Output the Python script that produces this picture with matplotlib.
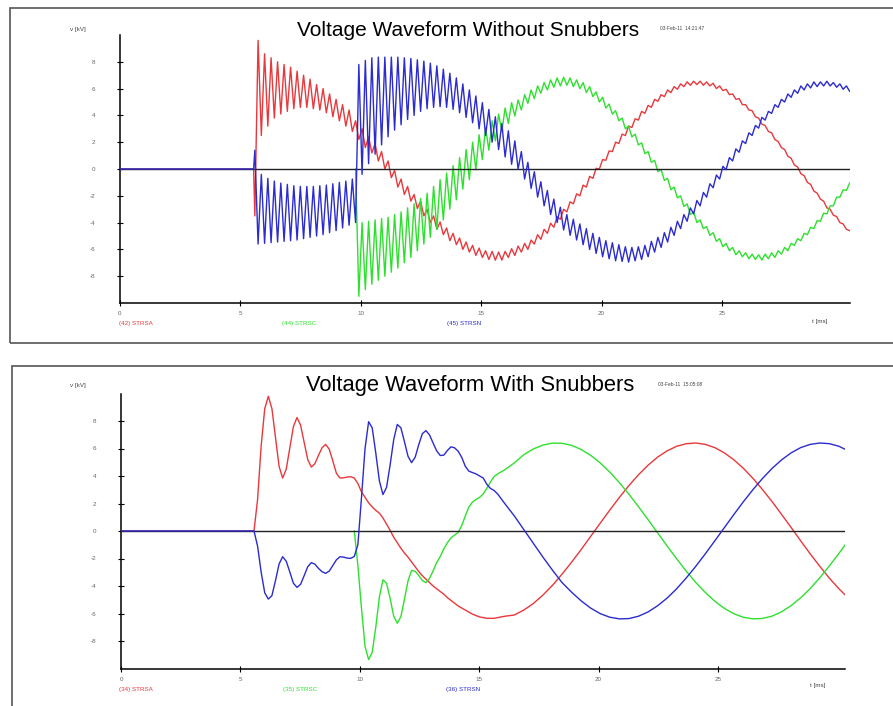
import numpy as np
import matplotlib
matplotlib.use("Agg")
import matplotlib.pyplot as plt
from matplotlib.patches import Rectangle

plt.rcParams['font.family'] = ['Liberation Sans', 'DejaVu Sans']
plt.rcParams['axes.unicode_minus'] = False

# ---------------- top panel: without snubbers ----------------
# one sample per ripple half period, starting at 5.6 ms
top_t0 = 5.6
top_dt = 0.135

strsa_top = [
    -3.5, 9.6, 2.5, 8.6, 3.2, 8.3, 3.8, 8.0,
    4.1, 7.8, 4.3, 7.6, 4.5, 7.3, 4.6, 7.0,
    4.6, 6.7, 4.5, 6.3, 4.4, 6.0, 4.2, 5.6,
    3.9, 5.2, 3.6, 4.8, 3.2, 4.4, 2.8, 3.6,
    2.2, 3.0, 1.6, 2.4, 1.2, 1.9, 0.6, 1.3,
    0.0, 0.6, -0.65, -0.1, -1.35, -0.75, -1.9, -1.3,
    -2.4, -1.9, -2.95, -2.4, -3.5, -3.0, -4.0, -3.5,
    -4.5, -3.95, -4.9, -4.4, -5.35, -4.8, -5.65, -5.15,
    -6.0, -5.45, -6.2, -5.7, -6.45, -5.9, -6.6, -6.1,
    -6.75, -6.15, -6.8, -6.2, -6.8, -6.15, -6.6, -5.95,
    -6.45, -5.75, -6.2, -5.55, -6.0, -5.3, -5.6, -4.9,
    -5.25, -4.5, -4.8, -4.05, -4.35, -3.55, -3.75, -3.0,
    -3.2, -2.45, -2.6, -1.85, -2.0, -1.2, -1.35, -0.55,
    -0.7, 0.05, 0.0, 0.7, 0.65, 1.35, 1.3, 2.0,
    1.9, 2.6, 2.5, 3.2, 3.1, 3.75, 3.65, 4.3,
    4.15, 4.75, 4.6, 5.2, 5.05, 5.55, 5.4, 5.9,
    5.7, 6.15, 5.95, 6.35, 6.15, 6.5, 6.25, 6.55,
    6.3, 6.55, 6.25, 6.5, 6.2, 6.4, 6.0, 6.2,
    5.85, 5.95, 5.55, 5.6, 5.2, 5.25, 4.8, 4.8,
    4.4, 4.35, 3.9, 3.8, 3.35, 3.25, 2.8, 2.7,
    2.2, 2.05, 1.6, 1.45, 0.95, 0.8, 0.3, 0.15,
    -0.35, -0.5, -1.0, -1.15, -1.65, -1.8, -2.25, -2.4,
    -2.9, -3.0, -3.45, -3.55, -4.0, -4.1, -4.5, -4.6,
]

strsc_top = [0.0] * 32 + [
    -9.5, -4.0, -9.0, -3.9, -8.6, -3.8, -8.3, -3.7,
    -8.0, -3.6, -7.7, -3.4, -7.4, -3.2, -7.0, -2.9,
    -6.6, -2.6, -6.1, -2.2, -5.6, -1.8, -5.1, -1.3,
    -4.5, -0.8, -3.8, -0.3, -3.0, 0.25, -2.3, 0.85,
    -1.5, 1.45, -0.8, 2.0, -0.05, 2.55, 0.7, 3.1,
    1.4, 3.6, 2.1, 4.1, 2.8, 4.55, 3.4, 4.95,
    3.95, 5.15, 4.4, 5.55, 4.9, 5.9, 5.25, 6.2,
    5.65, 6.45, 5.9, 6.65, 6.1, 6.8, 6.2, 6.85,
    6.25, 6.8, 6.15, 6.65, 6.0, 6.45, 5.7, 6.15,
    5.4, 5.75, 5.0, 5.35, 4.55, 4.85, 4.1, 4.35,
    3.6, 3.8, 3.0, 3.2, 2.4, 2.6, 1.8, 1.95,
    1.15, 1.3, 0.5, 0.65, -0.2, -0.05, -0.85, -0.7,
    -1.55, -1.35, -2.15, -2.0, -2.8, -2.6, -3.4, -3.2,
    -4.0, -3.8, -4.45, -4.3, -4.95, -4.75, -5.4, -5.2,
    -5.8, -5.55, -6.1, -5.85, -6.4, -6.1, -6.55, -6.25,
    -6.7, -6.35, -6.75, -6.4, -6.8, -6.35, -6.7, -6.25,
    -6.6, -6.1, -6.35, -5.85, -6.1, -5.55, -5.7, -5.2,
    -5.35, -4.8, -4.9, -4.35, -4.45, -3.85, -3.9, -3.3,
    -3.35, -2.75, -2.75, -2.1, -2.1, -1.55, -1.6, -1.05,
]

strsn_top = [
    1.4, -5.6, -0.4, -5.55, -0.7, -5.5, -0.9, -5.45,
    -1.05, -5.4, -1.15, -5.35, -1.25, -5.3, -1.3, -5.2,
    -1.3, -5.1, -1.3, -5.0, -1.25, -4.9, -1.2, -4.75,
    -1.1, -4.6, -1.0, -4.4, -0.9, -4.2, -0.75, -4.0,
    7.8, -0.4, 8.1, 0.4, 8.3, 1.1, 8.35, 1.8,
    8.35, 2.4, 8.35, 2.9, 8.35, 3.3, 8.3, 3.7,
    8.25, 4.0, 8.15, 4.3, 8.05, 4.5, 7.9, 4.6,
    7.7, 4.65, 7.45, 4.6, 7.15, 4.45, 6.8, 4.2,
    6.35, 3.85, 5.9, 3.45, 5.45, 3.0, 4.95, 2.5,
    4.45, 2.0, 3.9, 1.45, 3.4, 0.9, 2.85, 0.35,
    2.1, 0.0, 1.3, -0.75, 0.5, -1.45, -0.2, -2.1,
    -0.95, -2.75, -1.6, -3.4, -2.25, -4.0, -2.85, -4.55,
    -3.4, -4.95, -3.75, -5.3, -4.1, -5.65, -4.45, -6.0,
    -4.8, -6.3, -5.1, -6.55, -5.35, -6.7, -5.5, -6.85,
    -5.65, -6.9, -5.8, -6.95, -5.85, -6.85, -5.8, -6.75,
    -5.7, -6.55, -5.4, -6.2, -5.1, -5.85, -4.75, -5.45,
    -4.35, -4.95, -3.9, -4.45, -3.4, -3.9, -2.9, -3.35,
    -2.35, -2.75, -1.75, -2.1, -1.1, -1.4, -0.45, -0.75,
    0.2, -0.05, 0.85, 0.6, 1.5, 1.25, 2.1, 1.9,
    2.7, 2.5, 3.25, 3.05, 3.85, 3.65, 4.3, 4.15,
    4.8, 4.6, 5.2, 5.0, 5.6, 5.35, 5.9, 5.65,
    6.2, 5.9, 6.35, 6.05, 6.5, 6.15, 6.5, 6.2,
    6.55, 6.2, 6.45, 6.1, 6.35, 5.95, 6.2, 5.8,
]

# ---------------- bottom panel: with snubbers ----------------
bot_t0, bot_dt, bot_n = 5.57, 0.15, 71
bot_t1, bot_dt1, bot_n1 = 16.47, 0.4, 36

strsa_bot = [
    0.0,
    0.0, 2.3, 6.2, 8.9, 9.8, 8.9, 6.8, 4.7,
    3.85, 4.5, 6.05, 7.6, 8.25, 7.7, 6.45, 5.2,
    4.65, 4.9, 5.5, 6.05, 6.3, 5.95, 5.1, 4.2,
    3.85, 3.87, 3.92, 3.95, 3.85, 3.45, 2.85, 2.45,
    2.05, 1.75, 1.5, 1.3, 0.95, 0.5, 0.05, -0.45,
    -0.85, -1.25, -1.6, -1.9, -2.25, -2.6, -2.95, -3.25,
    -3.5, -3.75, -4.0, -4.2, -4.4, -4.6, -4.85, -5.05,
    -5.25, -5.45, -5.6, -5.75, -5.9, -6.05, -6.15, -6.25,
    -6.3, -6.35, -6.35, -6.35, -6.3, -6.25, -6.2,
    -6.11, -5.75, -5.27, -4.66, -3.95, -3.14, -2.27, -1.35, -0.39,
    0.57, 1.52, 2.44, 3.3, 4.09, 4.78, 5.37, 5.83, 6.16,
    6.35, 6.4, 6.3, 6.06, 5.68, 5.17, 4.55, 3.82, 3.0,
    2.13, 1.19, 0.24, -0.73, -1.68, -2.58, -3.44, -4.21, -4.89,
]

strsc_bot = [0.0] * 30 + [
    -2.5, -5.6, -8.4,
    -9.35, -8.82, -7.0, -4.8, -3.55, -3.8, -4.9, -6.18,
    -6.71, -6.23, -4.96, -3.63, -2.86, -2.93, -3.24, -3.6,
    -3.76, -3.45, -2.9, -2.3, -1.85, -1.3, -0.85, -0.5,
    -0.3, -0.1, 0.4, 1.1, 1.75, 2.1, 2.3, 2.45,
    2.7, 3.1, 3.55, 3.95, 4.15, 4.3, 4.45,
    4.95, 5.55, 5.97, 6.25, 6.39, 6.38, 6.23, 5.93, 5.5,
    4.95, 4.28, 3.52, 2.68, 1.77, 0.83, -0.13, -1.09, -2.02,
    -2.92, -3.74, -4.47, -5.11, -5.63, -6.02, -6.28, -6.39, -6.36,
    -6.19, -5.87, -5.42, -4.85, -4.17, -3.39, -2.53, -1.62, -0.67,
]

strsn_bot = [
    0.0,
    0.0, -1.1, -3.0, -4.5, -4.95, -4.7, -3.6, -2.4,
    -1.87, -2.2, -2.98, -3.8, -4.1, -3.88, -3.25, -2.6,
    -2.3, -2.41, -2.72, -2.96, -3.08, -2.92, -2.51, -2.1,
    -1.87, -1.9, -1.97, -1.99, -1.85, -1.0, 2.4, 6.0,
    7.95, 7.5, 5.67, 3.65, 2.65, 3.17, 4.8, 6.64,
    7.75, 7.51, 6.5, 5.43, 4.97, 5.37, 6.28, 7.08,
    7.3, 6.99, 6.4, 5.83, 5.49, 5.52, 5.86, 6.12,
    6.05, 5.8, 5.35, 4.7, 4.35, 4.25, 4.15, 4.0,
    3.85, 3.4, 3.1, 2.95, 2.7, 2.35, 2.0,
    1.1, 0.1, -0.9, -1.9, -2.85, -3.75, -4.45, -5.08, -5.61,
    -6.01, -6.27, -6.39, -6.37, -6.2, -5.89, -5.44, -4.88, -4.2,
    -3.42, -2.57, -1.66, -0.71, 0.25, 1.21, 2.14, 3.02, 3.83,
    4.56, 5.18, 5.69, 6.07, 6.3, 6.4, 6.35, 6.16, 5.82,
]

x_ticks = [0, 5, 10, 15, 20, 25]
y_ticks = [-8, -6, -4, -2, 0, 2, 4, 6, 8]

RED = '#e8383c'
GREEN = '#2ee02e'
BLUE = '#2b2bd0'

t_top = np.concatenate([[0.0, 5.55], top_t0 + top_dt * np.arange(len(strsa_top))])
t_bot = np.concatenate([[0.0], bot_t0 + bot_dt * np.arange(bot_n),
                        bot_t1 + bot_dt1 * np.arange(bot_n1)])

W, H = 893, 706
fig = plt.figure(figsize=(W / 100, H / 100), dpi=100)


def px_axes(left, top, right, bottom):
    return fig.add_axes([left / W, 1 - bottom / H, (right - left) / W, (bottom - top) / H])


def style(ax, xmax):
    ax.set_xlim(0, xmax)
    ax.set_ylim(-10, 10)
    for s in ['top', 'right']:
        ax.spines[s].set_visible(False)
    for s in ['left', 'bottom']:
        ax.spines[s].set_linewidth(1.1)
    ax.set_xticks(x_ticks)
    ax.set_yticks(y_ticks)
    ax.tick_params(direction='inout', length=4, width=0.8, labelsize=4.5,
                   labelcolor='#666666')
    ax.tick_params(axis='y', pad=16)
    ax.tick_params(axis='x', pad=4)
    ax.axhline(0, color='#222222', lw=1.0, zorder=3)


line_kw = dict(lw=1.0, solid_joinstyle='round')

ax1 = px_axes(120, 35, 850, 303)
va_top = np.array([0.0, 0.0] + strsa_top)
vc_top = np.array([0.0, 0.0] + strsc_top)
vn_top = np.array([0.0, 0.0] + strsn_top)
# phase C only leaves zero when it is switched in (~10 ms)
c0 = 2 + 31
ax1.plot(t_top, va_top, color=RED, zorder=2, **line_kw)
ax1.plot(t_top[c0:], vc_top[c0:], color=GREEN, zorder=2, **line_kw)
ax1.plot(t_top, vn_top, color=BLUE, zorder=4, **line_kw)
style(ax1, 30.32)

ax2 = px_axes(121, 393.5, 845, 668.5)
c1 = 29
ax2.plot(t_bot, strsa_bot, color=RED, zorder=2, **line_kw)
ax2.plot(t_bot[c1:], strsc_bot[c1:], color=GREEN, zorder=2, **line_kw)
ax2.plot(t_bot, strsn_bot, color=BLUE, zorder=4, **line_kw)
style(ax2, 30.32)

# panel frames
fig.patches.append(Rectangle((10 / W, 1 - 343 / H), 900 / W, 335 / H, transform=fig.transFigure,
                             fill=False, ec='#555555', lw=1.2))
fig.patches.append(Rectangle((12 / W, 1 - 712 / H), 900 / W, 346 / H, transform=fig.transFigure,
                             fill=False, ec='#555555', lw=1.2))


def ftext(x, y, s, **kw):
    fig.text(x / W, 1 - y / H, s, **kw)


small = dict(fontsize=4.5, va='center')
ftext(468, 30, 'Voltage Waveform Without Snubbers', fontsize=15, ha='center', va='center')
ftext(470, 386, 'Voltage Waveform With Snubbers', fontsize=15.8, ha='center', va='center')
ftext(660, 28, '03-Feb-11  14:21:47', fontsize=3.5, va='center', color='#444444')
ftext(658, 384, '03-Feb-11  15:05:08', fontsize=3.5, va='center', color='#444444')

ftext(70, 30, 'v [kV]', color='#444444', **small)
ftext(70, 386, 'v [kV]', color='#444444', **small)
ftext(812, 321, 't [ms]', color='#444444', **small)
ftext(810, 686, 't [ms]', color='#444444', **small)

ftext(119, 324, '(42) STRSA', color=RED, **small)
ftext(282, 324, '(44) STRSC', color=GREEN, **small)
ftext(447, 324, '(45) STRSN', color=BLUE, **small)
ftext(119, 690, '(34) STRSA', color=RED, **small)
ftext(283, 689, '(35) STRSC', color=GREEN, **small)
ftext(446, 689, '(36) STRSN', color=BLUE, **small)

fig.savefig('out.png', dpi=100)
